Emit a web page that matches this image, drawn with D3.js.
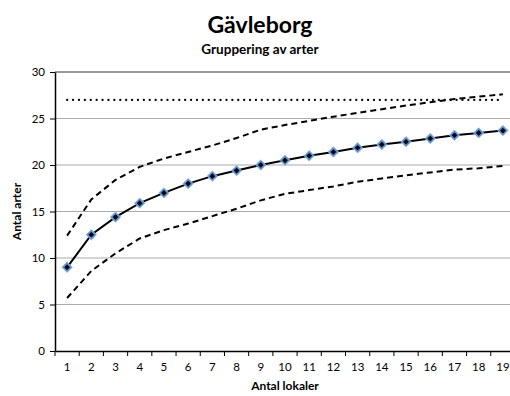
<!DOCTYPE html>
<html>
<head>
<meta charset="utf-8">
<script src="https://cdn.jsdelivr.net/npm/d3@7"></script>
<style>
  body { margin: 0; background: #fff; }
  text { font-family: Lato, "Open Sans", sans-serif; }
</style>
</head>
<body>
<script>
// Data
const lokaler = d3.range(1, 20);
const medel = [9.0, 12.5, 14.4, 15.9, 17.0, 18.0, 18.8, 19.4, 20.0, 20.5, 21.0, 21.4, 21.85, 22.2, 22.5, 22.85, 23.2, 23.45, 23.7];
const ovre = [12.4, 16.3, 18.4, 19.8, 20.7, 21.4, 22.1, 22.9, 23.8, 24.3, 24.75, 25.2, 25.6, 26.0, 26.4, 26.75, 27.1, 27.35, 27.6];
const undre = [5.7, 8.6, 10.5, 12.1, 13.0, 13.7, 14.5, 15.3, 16.2, 16.9, 17.3, 17.7, 18.2, 18.55, 18.9, 19.2, 19.5, 19.65, 19.9];
const totalt = lokaler.map(() => 27);
const yTicks = [0, 5, 10, 15, 20, 25, 30];

// SVG
const svg = d3.select("body").append("svg")
    .attr("width", 510)
    .attr("height", 396);

const margin = { top: 72, right: 0, bottom: 45, left: 55 };
const width = 460;
const height = 396 - margin.top - margin.bottom;

const g = svg.append("g").attr("transform", "translate(" + margin.left + "," + margin.top + ")");

const x = d3.scaleBand().domain(lokaler).range([0, width]);
const y = d3.scaleLinear().domain([0, 30]).range([height, 0]);
const cx = d => x(d) + x.bandwidth() / 2;

// Titles
svg.append("text")
    .attr("x", 260).attr("y", 33)
    .attr("text-anchor", "middle")
    .attr("font-size", "23px").attr("font-weight", "bold")
    .text("Gävleborg");
svg.append("text")
    .attr("x", 260).attr("y", 54)
    .attr("text-anchor", "middle")
    .attr("font-size", "13.5px").attr("font-weight", "bold")
    .text("Gruppering av arter");

// Gridlines
g.selectAll(".grid").data(yTicks.filter(t => t > 0)).enter().append("line")
    .attr("x1", 0).attr("x2", width)
    .attr("y1", d => y(d)).attr("y2", d => y(d))
    .attr("stroke", d => d === 30 ? "#777" : "#aaa")
    .attr("stroke-width", d => d === 30 ? 1.5 : 1);

// Y axis
const yAxis = g.append("g")
    .call(d3.axisLeft(y).tickValues(yTicks).tickSize(5).tickSizeOuter(0));
yAxis.select(".domain").attr("stroke", "#000").attr("stroke-width", 1.5);
yAxis.selectAll("text").attr("font-size", "11.5px").attr("fill", "#000")
    .attr("font-family", "Lato, sans-serif").attr("dx", "-2px");

// X axis
const xAxis = g.append("g").attr("transform", "translate(0," + height + ")")
    .call(d3.axisBottom(x).tickSize(0));
xAxis.select(".domain").attr("stroke", "#000").attr("stroke-width", 1.5);
xAxis.selectAll("text").attr("font-size", "11.5px").attr("fill", "#000")
    .attr("font-family", "Lato, sans-serif").attr("dy", "1.5em");
g.selectAll(".xtick").data(lokaler.concat([20])).enter().append("line")
    .attr("x1", d => d === 20 ? width : x(d)).attr("x2", d => d === 20 ? width : x(d))
    .attr("y1", height).attr("y2", height + 5)
    .attr("stroke", "#000");

// Axis titles
svg.append("text")
    .attr("transform", "translate(21," + (margin.top + height / 2) + ") rotate(-90)")
    .attr("text-anchor", "middle")
    .attr("font-size", "12px").attr("font-weight", "bold")
    .text("Antal arter");
svg.append("text")
    .attr("x", 285).attr("y", 390)
    .attr("text-anchor", "middle")
    .attr("font-size", "12px").attr("font-weight", "bold")
    .text("Antal lokaler");

// Lines
const line = d3.line().x((d, i) => cx(lokaler[i])).y(d => y(d));

g.append("path").datum(totalt)
    .attr("d", line).attr("fill", "none")
    .attr("stroke", "#000").attr("stroke-width", 2.2)
    .attr("stroke-linecap", "round").attr("stroke-dasharray", "0.1,5.8");

g.append("path").datum(ovre)
    .attr("d", line).attr("fill", "none")
    .attr("stroke", "#000").attr("stroke-width", 2).attr("stroke-dasharray", "6,4");

g.append("path").datum(undre)
    .attr("d", line).attr("fill", "none")
    .attr("stroke", "#000").attr("stroke-width", 2).attr("stroke-dasharray", "6,4");

g.append("path").datum(medel)
    .attr("d", line).attr("fill", "none")
    .attr("stroke", "#000").attr("stroke-width", 2);

// Markers
const diamond = r => "M0," + (-r) + "L" + r + ",0L0," + r + "L" + (-r) + ",0Z";
const markers = g.selectAll(".marker").data(medel).enter().append("g")
    .attr("transform", (d, i) => "translate(" + cx(lokaler[i]) + "," + y(d) + ")");
markers.append("path").attr("d", diamond(5.2)).attr("fill", "#5b8fd0").attr("stroke", "#8fb4e3").attr("stroke-width", 0.8);
markers.append("path").attr("d", diamond(2.8)).attr("fill", "#000");
</script>
</body>
</html>
